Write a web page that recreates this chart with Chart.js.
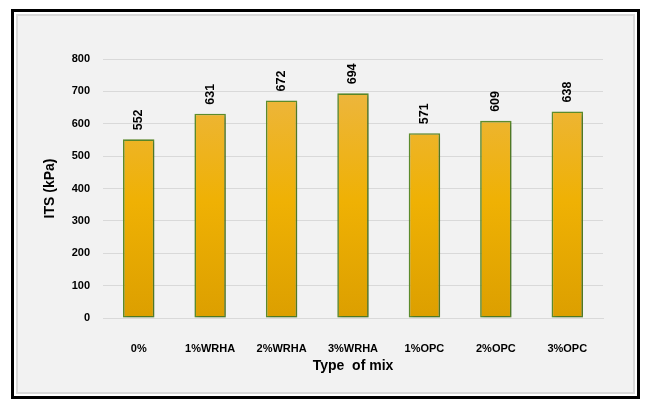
<!DOCTYPE html>
<html>
<head>
<meta charset="utf-8">
<script src="https://cdn.jsdelivr.net/npm/chart.js@4"></script>
<style>
html,body{margin:0;padding:0;background:#ffffff;width:653px;height:409px;overflow:hidden;}
#frame{position:absolute;left:11px;top:9px;width:623px;height:384px;border:3px solid #000;background:#fff;}
#inner{position:absolute;left:2px;top:2px;right:2px;bottom:2px;border:2px solid #d9d9d9;background:#f2f2f2;}
#wrap{position:absolute;left:0;top:0;width:653px;height:409px;}
</style>
</head>
<body>
<div id="frame"><div id="inner"></div></div>
<div id="wrap"><canvas id="c" width="653" height="409"></canvas></div>
<script>
const categories = ["0%", "1%WRHA", "2%WRHA", "3%WRHA", "1%OPC", "2%OPC", "3%OPC"];
const itsValues = [552, 631, 672, 694, 571, 609, 638];
const yTicks = [0, 100, 200, 300, 400, 500, 600, 700, 800];

const FONT = "'Liberation Sans', Arial, sans-serif";

function barGradient(ctx) {
  const chart = ctx.chart;
  const area = chart.chartArea;
  if (!area) return '#efb000';
  const g = chart.ctx.createLinearGradient(0, area.top, 0, area.bottom);
  g.addColorStop(0, '#ecb74e');
  g.addColorStop(0.55, '#efb104');
  g.addColorStop(1, '#dc9f00');
  return g;
}

const shadowPlugin = {
  id: 'barShadow',
  beforeDatasetsDraw(chart) {
    const c = chart.ctx;
    c.save();
    c.shadowColor = 'rgba(0,0,0,0.28)';
    c.shadowBlur = 4;
    c.shadowOffsetX = 1.5;
    c.shadowOffsetY = 1.5;
  },
  afterDatasetsDraw(chart) {
    chart.ctx.restore();
  }
};

const labelPlugin = {
  id: 'valueLabels',
  afterDatasetsDraw(chart) {
    const c = chart.ctx;
    const meta = chart.getDatasetMeta(0);
    const data = chart.data.datasets[0].data;
    c.save();
    c.fillStyle = '#000';
    c.font = "bold 12.5px " + FONT;
    c.textAlign = 'left';
    c.textBaseline = 'middle';
    meta.data.forEach((bar, i) => {
      c.save();
      c.translate(bar.x, bar.y - 9);
      c.rotate(-Math.PI / 2);
      c.fillText(String(data[i]), 0, 0);
      c.restore();
    });
    c.restore();
  }
};

new Chart(document.getElementById('c'), {
  type: 'bar',
  data: {
    labels: categories,
    datasets: [{
      data: itsValues,
      backgroundColor: barGradient,
      borderColor: '#5e8f2c',
      borderWidth: 1.6,
      borderSkipped: false,
      barPercentage: 0.44,
      categoryPercentage: 1.0
    }]
  },
  options: {
    responsive: false,
    animation: false,
    devicePixelRatio: 1,
    layout: { padding: { left: 42, right: 50, top: 59, bottom: 34 } },
    plugins: { legend: { display: false }, tooltip: { enabled: false } },
    scales: {
      x: {
        afterFit(scale) { scale.height = 57; },
        grid: { display: false, drawTicks: false },
        border: { display: true, color: '#d9d9d9', width: 1 },
        ticks: { color: '#000', font: { family: FONT, size: 11, weight: 'bold' }, padding: 24, maxRotation: 0 },
        title: { display: true, text: 'Type  of mix', color: '#000', font: { family: FONT, size: 14, weight: 'bold' }, padding: { top: 0, bottom: 0 } }
      },
      y: {
        min: 0, max: 800,
        afterBuildTicks(scale) { scale.ticks = yTicks.map(v => ({ value: v })); },
        afterFit(scale) { scale.width = 61; },
        grid: { color: '#d9d9d9', lineWidth: 1, drawTicks: false },
        border: { display: false },
        ticks: { color: '#000', font: { family: FONT, size: 11, weight: 'bold' }, padding: 13 },
        title: { display: true, text: 'ITS (kPa)', color: '#000', font: { family: FONT, size: 14, weight: 'bold' }, padding: { top: 0, bottom: 0 } }
      }
    }
  },
  plugins: [shadowPlugin, labelPlugin]
});
</script>
</body>
</html>
